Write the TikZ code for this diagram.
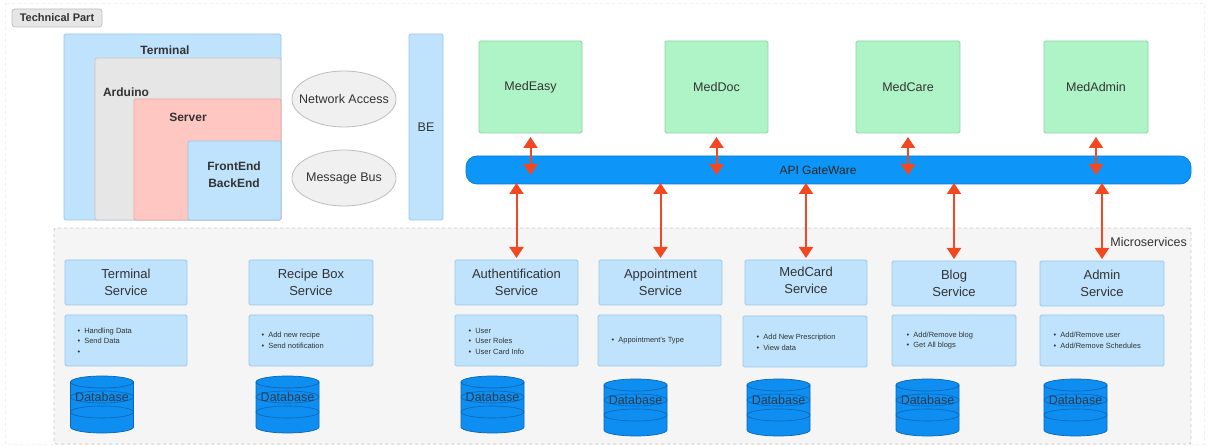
\documentclass[tikz,border=0pt]{standalone}
\usepackage{fontspec}
\setmainfont{Liberation Sans}
\usetikzlibrary{arrows.meta,shapes.geometric,calc}
\definecolor{lbF}{HTML}{BFE3FC}
\definecolor{lbD}{HTML}{9CC8E8}
\definecolor{grF}{HTML}{E6E6E6}
\definecolor{grD}{HTML}{C4C4C4}
\definecolor{pkF}{HTML}{FFC7C2}
\definecolor{pkD}{HTML}{E8AAA4}
\definecolor{gnF}{HTML}{AFF4C6}
\definecolor{gnD}{HTML}{8FD3A9}
\definecolor{gwF}{HTML}{0D96F7}
\definecolor{gwD}{HTML}{0A7FD6}
\definecolor{dbF}{HTML}{0D8EF0}
\definecolor{dbD}{HTML}{0A66B5}
\definecolor{arrowred}{HTML}{F24822}
\definecolor{msF}{HTML}{F5F5F5}
\definecolor{msD}{HTML}{C8C8C8}
\definecolor{elF}{HTML}{F0F0F0}
\definecolor{elD}{HTML}{BDBDBD}
\definecolor{txt}{HTML}{333333}
\definecolor{dbT}{HTML}{2B3A4A}
\newcommand\bi{\textbullet\hspace{4pt}}
\newcommand\dbase[3]{%
  \fill[dbF] (#2-31.5,#3+6) -- (#2-31.5,#3+51)
     arc[start angle=180,end angle=360,x radius=31.5pt,y radius=6pt]
     -- (#2+31.5,#3+6)
     arc[start angle=0,end angle=180,x radius=31.5pt,y radius=6pt] -- cycle;
  \draw[dbD,line width=0.7pt] (#2-31.5,#3+6) -- (#2-31.5,#3+51)
     arc[start angle=180,end angle=360,x radius=31.5pt,y radius=6pt]
     -- (#2+31.5,#3+6);
  \draw[dbD,line width=0.7pt] (#2,#3+6) ellipse [x radius=31.5pt,y radius=6pt];
  \draw[dbD,line width=0.6pt] (#2,#3+21) ellipse [x radius=31.5pt,y radius=6pt];
  \draw[dbD,line width=0.6pt] (#2,#3+36) ellipse [x radius=31.5pt,y radius=6pt];
  \node[dbtext] (#1) at (#2,#3+21) {Database};}
\begin{document}
\begin{tikzpicture}[x=1pt,y=-1pt,
  every node/.style={text=txt},
  box/.style={draw, line width=0.8pt, rounded corners=1.5pt, inner sep=0pt, outer sep=0pt},
  lb/.style={box, draw=lbD, fill=lbF},
  gb/.style={box, draw=grD, fill=grF},
  pk/.style={box, draw=pkD, fill=pkF},
  gn/.style={box, draw=gnD, fill=gnF, minimum width=103pt, minimum height=92pt, font=\fontsize{12.5}{15}\selectfont},
  lbl/.style={font=\bfseries\fontsize{12}{17}\selectfont, inner sep=0pt, align=center},
  ell/.style={ellipse, draw=elD, fill=elF, line width=0.8pt, minimum width=104pt, minimum height=56pt, inner sep=0pt},
  elltext/.style={inner sep=0pt, font=\fontsize{12.5}{15}\selectfont},
  svc/.style={lb, minimum width=123pt, minimum height=45pt, align=center, font=\fontsize{13}{17}\selectfont},
  svctext/.style={inner sep=0pt, align=center, font=\fontsize{13}{17}\selectfont},
  desc/.style={lb, minimum width=123pt, minimum height=51pt},
  bul/.style={anchor=west, inner sep=0pt, align=left, font=\fontsize{7.5}{10.5}\selectfont},
  dbtext/.style={inner sep=0pt, text=dbT, font=\fontsize{12.5}{15}\selectfont},
  arr/.style={{Triangle[width=14pt,length=11pt]}-{Triangle[width=14pt,length=11pt]}, line width=2pt, draw=arrowred},
]
\useasboundingbox (0,0) rectangle (1208,446);
% outer faint frame
\draw[gray!12, dashed, line width=0.6pt] (5,3) rectangle (1204,444);
% Technical Part tag
\node[box, draw=elD, fill=grF, rounded corners=3pt, minimum width=90pt, minimum height=18pt, font=\bfseries\fontsize{11}{13}\selectfont] (tag) at (57,18) {Technical Part};
% nested terminal boxes
\node[lb, minimum width=217pt, minimum height=186pt] (terminal) at (172.5,127) {};
\node[gb, minimum width=186pt, minimum height=162pt] (arduino) at (188,139) {};
\node[pk, minimum width=147pt, minimum height=121pt] (server) at (207.5,159.5) {};
\node[lb, minimum width=93pt, minimum height=79pt] (frontend) at (234.5,180.5) {};
\node[lbl] (terminalL) at (165,50) {Terminal};
\node[lbl] (arduinoL) at (126,92) {Arduino};
\node[lbl] (serverL) at (188,117) {Server};
\node[lbl] (frontendL) at (234,174.5) {FrontEnd\\BackEnd};
% ellipses
\node[ell] (net) at (344,99) {};
\node[elltext] (netL) at (net.center) {Network Access};
\node[ell] (bus) at (344,178) {};
\node[elltext] (busL) at (bus.center) {Message Bus};
% BE
\node[lb, minimum width=34pt, minimum height=186pt, font=\fontsize{12.5}{15}\selectfont] (be) at (426,127) {BE};
% apps
\node[gn] (medeasy) at (530.5,87) {MedEasy};
\node[gn] (meddoc) at (716.5,87) {MedDoc};
\node[gn, minimum width=104pt] (medcare) at (908,87) {MedCare};
\node[gn, minimum width=104pt] (medadmin) at (1096,87) {MedAdmin};
% gateway
\node[box, draw=gwD, fill=gwF, rounded corners=11pt, minimum width=725pt, minimum height=28pt] (gw) at (828.5,170) {};
\node[font=\fontsize{12}{14}\selectfont, inner sep=0pt, text=black!85] (gwL) at (818,170) {API GateWare};
% microservices container
\node[draw=msD, fill=msF, dashed, line width=0.8pt, rounded corners=2pt, minimum width=1137pt, minimum height=216pt, inner sep=0pt] (micro) at (622.5,336) {};
\node[anchor=east, inner sep=0pt, font=\fontsize{12.5}{15}\selectfont] (microL) at (1187,242) {Microservices};
% service titles
\node[svc, minimum width=122pt] (tsvc) at (126,282.5) {Terminal\\Service};
\node[svc, minimum width=124pt] (rsvc) at (311,282.5) {Recipe Box\\Service};
\node[svc] (auth) at (516.5,282.5) {Authentification\\Service};
\node[svc] (appt) at (660.5,282.5) {Appointment\\Service};
\node[svc, minimum width=122pt] (medcard) at (806,282.5) {};
\node[svctext] (medcardL) at (806,280) {MedCard\\Service};
\node[svc, minimum width=124pt] (blog) at (954,283.5) {Blog\\Service};
\node[svc, minimum width=124pt] (admin) at (1102,283.5) {Admin\\Service};
% descriptions
\node[desc, minimum width=122pt] (tdesc) at (126,340.5) {};
\node[desc, minimum width=124pt] (rdesc) at (311,340.5) {};
\node[desc] (adesc) at (516.5,340.5) {};
\node[desc] (apdesc) at (659.5,340.5) {};
\node[desc, minimum width=124pt] (mdesc) at (805,341.5) {};
\node[desc, minimum width=124pt] (bdesc) at (954,340.5) {};
\node[desc, minimum width=124pt] (addesc) at (1102,340.5) {};
\node[bul] (tdescT) at (77.5,341) {\bi Handling Data\\\bi Send Data\\\textbullet};
\node[bul] (rdescT) at (261.5,340.5) {\bi Add new recipe\\\bi Send notification};
\node[bul] (adescT) at (468.5,341) {\bi User\\\bi User Roles\\\bi User Card Info};
\node[bul] (apdescT) at (611.5,341) {\bi Appointment's Type};
\node[bul] (mdescT) at (756.5,342.5) {\bi Add New Prescription\\\bi View data};
\node[bul] (bdescT) at (906.5,340.5) {\bi Add/Remove blog\\\bi Get All blogs};
\node[bul] (addescT) at (1053.5,340.5) {\bi Add/Remove user\\\bi Add/Remove Schedules};
% databases
\dbase{tdb}{102}{376}
\dbase{rdb}{287.5}{376}
\dbase{adb}{492.5}{376}
\dbase{apdb}{635.5}{379}
\dbase{mdb}{778.5}{379}
\dbase{bdb}{927.5}{379}
\dbase{addb}{1075.5}{379}
% arrows apps <-> gateway
\foreach \n in {medeasy,meddoc,medcare,medadmin}{
  \draw[arr] ($(\n.south)+(0,4)$) -- ($(\n.south |- gw.center)+(0,5)$);
}
% arrows gateway <-> services
\foreach \n in {auth,appt,medcard,blog,admin}{
  \draw[arr] ($(\n.north |- gw.south)+(0,-1)$) -- ($(\n.north)+(0,-2)$);
}
\end{tikzpicture}
\end{document}
